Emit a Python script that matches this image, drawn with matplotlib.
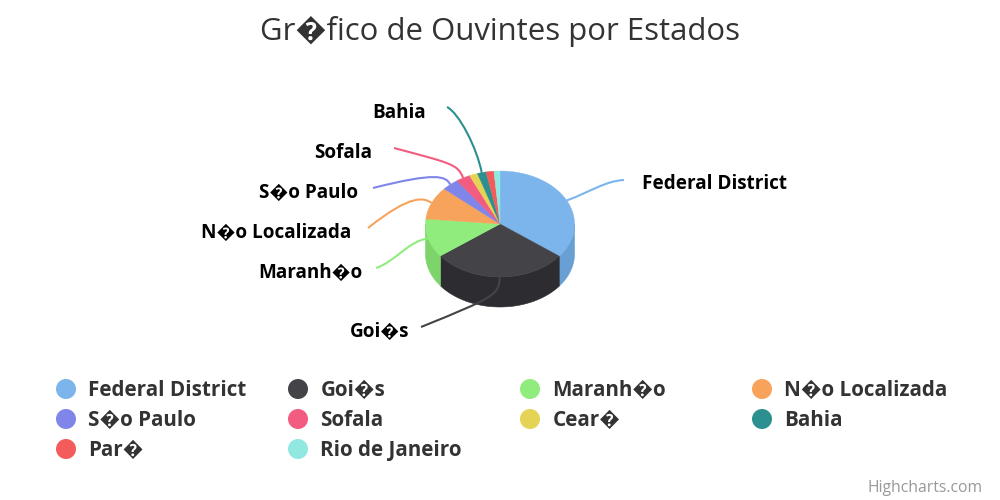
import numpy as np
import matplotlib
matplotlib.use("Agg")
import matplotlib.pyplot as plt
from matplotlib.patches import Ellipse, PathPatch, Polygon
from matplotlib.path import Path

plt.rcParams['font.family'] = ['Open Sans', 'DejaVu Sans']

# Data
estados = ["Federal District", "Goi\ufffds", "Maranh\ufffdo", "N\ufffdo Localizada", "S\ufffdo Paulo",
           "Sofala", "Cear\ufffd", "Bahia", "Par\ufffd", "Rio de Janeiro"]
ouvintes = [35.4, 29.4, 11.8, 10.0, 3.7, 3.1, 1.8, 1.9, 1.7, 1.3]
cores = ["#7cb5ec", "#434348", "#90ed7d", "#f7a35c", "#8085e9",
         "#f15c80", "#e4d354", "#2b908f", "#f45b5b", "#91e8e1"]
cores_lado = ["#69a0d4", "#2d2c30", "#7cd46b", "#f7a35c", "#8085e9",
              "#f15c80", "#e4d354", "#2b908f", "#f45b5b", "#91e8e1"]

# pie geometry, in pixels
cx, cy, rx, ry, depth = 500, 224, 74.5, 53, 30

# label: (text x, baseline y, align, c1, c2, end of connector)
rotulos = {
    "Federal District": (642, 189, "left", (590, 192), (605, 181), (624, 180)),
    "Goi\ufffds": (409, 337, "right", (499, 295), (495, 297), (421, 327)),
    "Maranh\ufffdo": (362, 278, "right", (408, 241), (395, 262), (376, 268)),
    "N\ufffdo Localizada": (351, 238, "right", (424, 198), (412, 193), (368, 228)),
    "S\ufffdo Paulo": (358, 198, "right", (446, 176), (436, 172), (373, 188)),
    "Sofala": (372, 158, "right", (458, 164), (450, 163), (394, 148)),
    "Bahia": (426, 118, "right", (477, 148), (459, 113), (447, 107)),
}

fig = plt.figure(figsize=(10, 5), dpi=100)
ax = fig.add_axes([0, 0, 1, 1])
ax.set_xlim(0, 1000)
ax.set_ylim(500, 0)
ax.axis("off")


def ponto(theta):
    return cx + rx * np.sin(theta), cy - ry * np.cos(theta)


fracs = np.array(ouvintes) / sum(ouvintes) * 2 * np.pi
fim = np.cumsum(fracs)
ini = fim - fracs

# side walls, only the front half is visible
for a, b, c in zip(ini, fim, cores_lado):
    a2, b2 = max(a, np.pi / 2), min(b, 3 * np.pi / 2)
    if b2 <= a2:
        continue
    t = np.linspace(a2, b2, 60)
    x, y = ponto(t)
    pts = np.vstack([np.c_[x, y], np.c_[x, y + depth][::-1]])
    ax.add_patch(Polygon(pts, closed=True, fc=c, ec=c, lw=0.4, zorder=2))

# top face
for a, b, c in zip(ini, fim, cores):
    t = np.linspace(a, b, 60)
    x, y = ponto(t)
    pts = np.vstack([[cx, cy], np.c_[x, y]])
    ax.add_patch(Polygon(pts, closed=True, fc=c, ec=c, lw=0.3, zorder=3))

# connectors and data labels
for nome, a, b, c in zip(estados, ini, fim, cores):
    if nome not in rotulos:
        continue
    tx, ty, ha, c1, c2, end = rotulos[nome]
    p0 = ponto((a + b) / 2)
    path = Path([p0, c1, c2, end], [Path.MOVETO, Path.CURVE4, Path.CURVE4, Path.CURVE4])
    ax.add_patch(PathPatch(path, fc="none", ec=c, lw=1.5, zorder=4))
    ax.text(tx, ty, nome, ha=ha, va="baseline", fontsize=13.6, fontweight="bold",
            color="black", zorder=5)

# legend
col_x = [66, 298, 530, 762]
lin_y = [389, 419, 449]
for i, (nome, c) in enumerate(zip(estados, cores)):
    lx, ly = col_x[i % 4], lin_y[i // 4]
    ax.add_patch(Ellipse((lx, ly), 20, 20, fc=c, ec="none"))
    ax.text(lx + 22.5, ly + 7, nome, ha="left", va="baseline", fontsize=14.85, fontweight="bold", color="#333333")

ax.text(500, 40, "Gr\ufffdfico de Ouvintes por Estados", ha="center", va="baseline", fontsize=22.4, color="#333333")
ax.text(983, 492, "Highcharts.com", ha="right", va="baseline", fontsize=11.3, color="#999999")

fig.savefig("out.png", dpi=100)
